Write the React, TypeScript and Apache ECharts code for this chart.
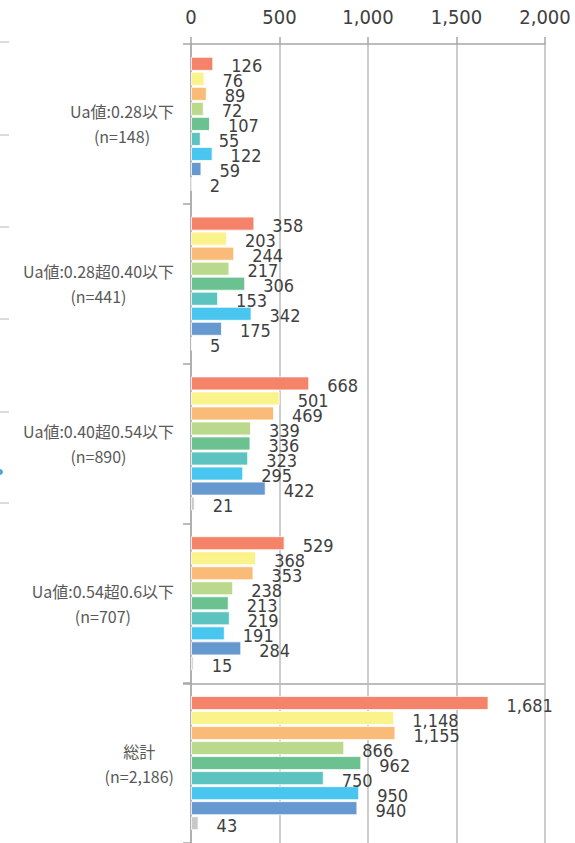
import React, { useEffect, useRef } from "react";
import * as echarts from "echarts";

// Groups (top to bottom) and their sample sizes
const groupNames = [
  "Ua値:0.28以下",
  "Ua値:0.28超0.40以下",
  "Ua値:0.40超0.54以下",
  "Ua値:0.54超0.6以下",
  "総計",
];
const groupCounts = ["(n=148)", "(n=441)", "(n=890)", "(n=707)", "(n=2,186)"];

// Values per group, one entry per bar (top to bottom inside each group)
const ua028 = [126, 76, 89, 72, 107, 55, 122, 59, 2];
const ua028to040 = [358, 203, 244, 217, 306, 153, 342, 175, 5];
const ua040to054 = [668, 501, 469, 339, 336, 323, 295, 422, 21];
const ua054to060 = [529, 368, 353, 238, 213, 219, 191, 284, 15];
const totals = [1681, 1148, 1155, 866, 962, 750, 950, 940, 43];

const seriesNames = ["区分1", "区分2", "区分3", "区分4", "区分5", "区分6", "区分7", "区分8", "区分9"];
const barColors = [
  "#F5836A",
  "#FAF28B",
  "#FBBB78",
  "#BAD98C",
  "#6BC18F",
  "#5DC3BE",
  "#48C6F0",
  "#6699D0",
  "#C8C8C8",
];

const xTicks = { min: 0, max: 2000, interval: 500 };

const W = 575;
const H = 843;
const GRID_LEFT = 191;
const GRID_TOP = 44;
const GRID_W = 354;
const GRID_H = 800;

const numFont = "'DejaVu Sans Condensed', 'DejaVu Sans', sans-serif";
const cjkFont = "'Noto Sans CJK JP', 'Noto Sans', sans-serif";

const fmt = (v: number) => v.toLocaleString("en-US");

export default function App() {
  const ref = useRef<HTMLDivElement>(null);

  useEffect(() => {
    if (!ref.current) return;
    const chart = echarts.init(ref.current, undefined, { renderer: "svg" });

    const groups = [ua028, ua028to040, ua040to054, ua054to060, totals];
    const categories = groupNames.map((n, i) => `${n}\n${groupCounts[i]}`);
    const bandH = GRID_H / categories.length;

    const series = seriesNames.map((name, si) => ({
      type: "bar" as const,
      name,
      data: groups.map((g) => g[si]),
      barGap: "7%",
      barCategoryGap: "16%",
      itemStyle: {
        color: barColors[si],
        borderColor: "rgba(255,255,255,0.75)",
        borderWidth: 1,
      },
      label: {
        show: true,
        position: "right" as const,
        distance: 18,
        offset: [0, 2],
        formatter: (p: any) => fmt(p.value),
        fontFamily: numFont,
        fontSize: 18,
        color: "#404040",
      },
    }));

    // Short marks at the left page edge
    const edgeYs = [42, 135, 227, 319, 412, 503];
    const edgeMarks = edgeYs.map((y) => ({
      type: "line",
      shape: { x1: 0, y1: y, x2: 9, y2: y },
      style: { stroke: "#c4c4c4", lineWidth: 1.2 },
      silent: true,
    }));

    chart.setOption({
      animation: false,
      backgroundColor: "#ffffff",
      grid: { left: GRID_LEFT, top: GRID_TOP, width: GRID_W, height: GRID_H, containLabel: false },
      xAxis: {
        type: "value",
        position: "top",
        min: xTicks.min,
        max: xTicks.max,
        interval: xTicks.interval,
        axisLine: { show: true, lineStyle: { color: "#a6a6a6", width: 1.5 } },
        axisTick: { show: true, length: 7, lineStyle: { color: "#a6a6a6", width: 1.5 } },
        axisLabel: {
          margin: 17,
          fontFamily: numFont,
          fontSize: 20,
          color: "#404040",
          formatter: (v: number) => fmt(v),
        },
        splitLine: { show: true, lineStyle: { color: "#bdbdbd", width: 1.5 } },
      },
      yAxis: {
        type: "category",
        inverse: true,
        data: categories,
        axisLine: { show: true, lineStyle: { color: "#a6a6a6", width: 1.5 } },
        axisTick: { show: true, length: 8, lineStyle: { color: "#a6a6a6", width: 1.5 } },
        axisLabel: {
          margin: 17,
          formatter: (v: string) =>
            v
              .split("\n")
              .map((line) => `{c|${line}}`)
              .join("\n"),
          rich: {
            c: {
              align: "center",
              fontFamily: cjkFont,
              fontSize: 16,
              lineHeight: 25,
              color: "#595959",
            },
          },
        },
        splitLine: { show: false },
      },
      graphic: [
        // separator above the total group, across the plot
        {
          type: "line",
          shape: {
            x1: GRID_LEFT - 8,
            y1: GRID_TOP + bandH * 4,
            x2: GRID_LEFT + GRID_W,
            y2: GRID_TOP + bandH * 4,
          },
          style: { stroke: "#a6a6a6", lineWidth: 1.5 },
          silent: true,
        },
        ...edgeMarks,
        {
          type: "circle",
          shape: { cx: 0, cy: 472, r: 3 },
          style: { fill: "#4AA8E0" },
          silent: true,
        },
      ],
      series,
    });

    return () => chart.dispose();
  }, []);

  return (
    <div
      ref={ref}
      style={{ position: "fixed", left: 0, top: 0, width: W, height: H, background: "#fff" }}
    />
  );
}
